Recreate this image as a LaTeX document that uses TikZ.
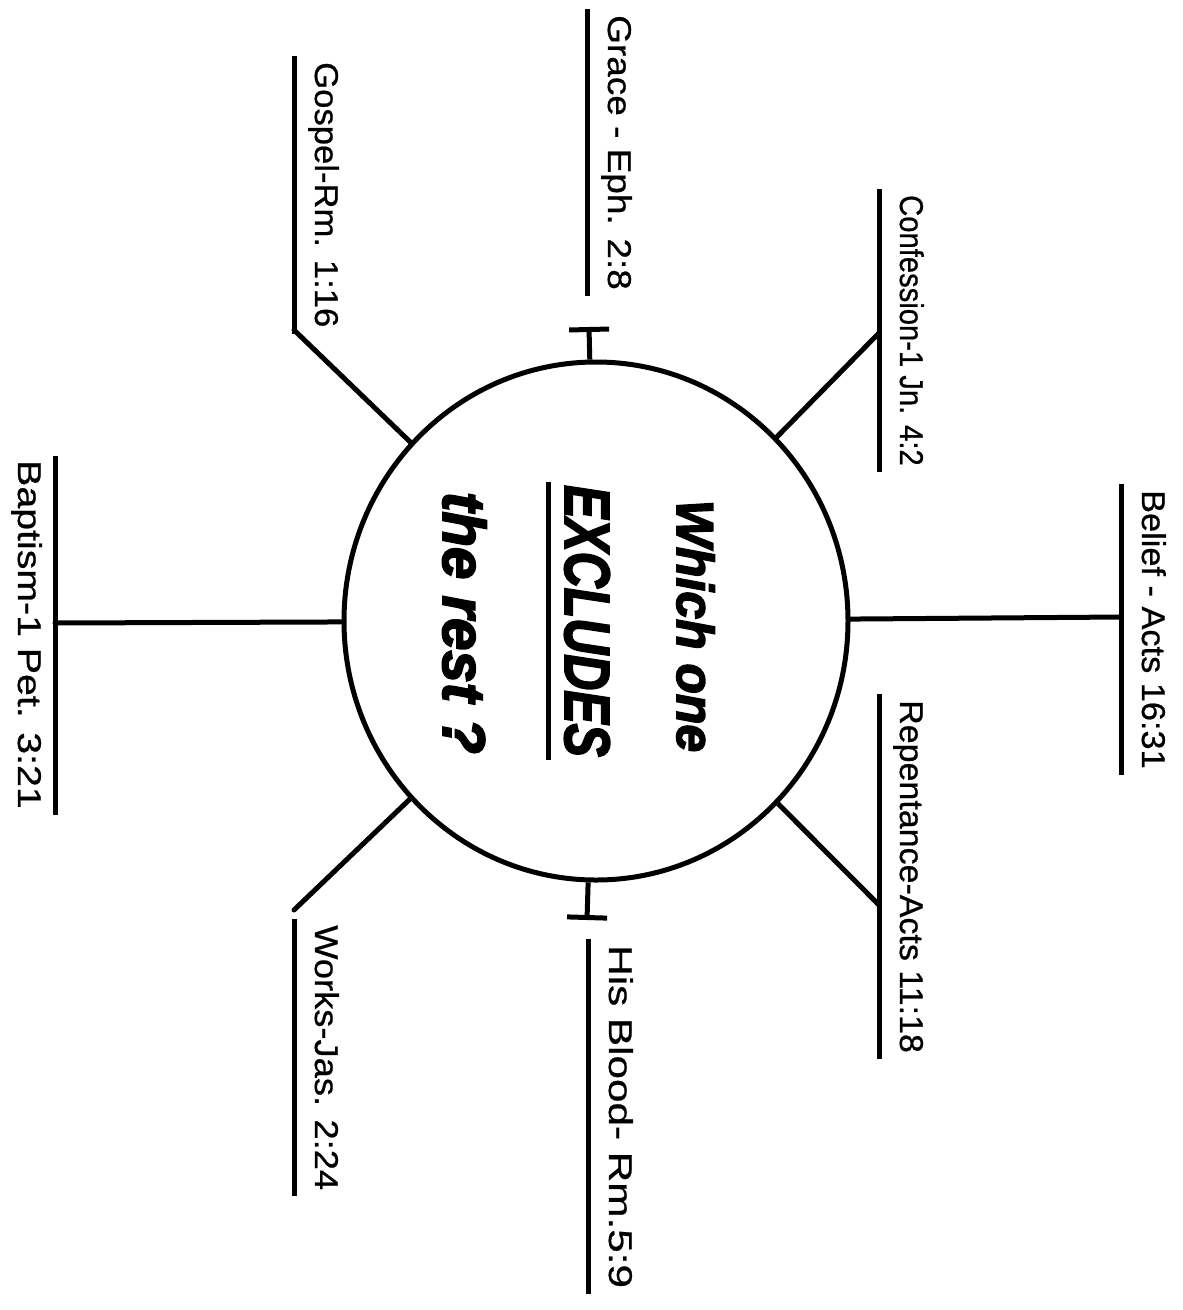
\documentclass[tikz,border=0pt]{standalone}
\usepackage{fontspec}
\setmainfont{Liberation Sans}
\newfontfamily\reffont{Liberation Sans}[FakeBold=0.6]
\newfontfamily\askfont{Liberation Sans}[BoldItalicFeatures={FakeBold=3}]
\usetikzlibrary{shapes.geometric,arrows.meta,positioning}

\begin{document}
\begin{tikzpicture}[x=1pt, y=-1pt,
  hub/.style={ellipse, draw, line width=5pt, minimum width=504pt,
    minimum height=518pt, inner sep=0pt},
  spoke/.style={line width=5pt, line cap=round},
  stub/.style={line width=5pt, -{Bar[width=40pt]}},
  uline/.style={line width=5pt},
  ref/.style={rotate=-90, anchor=base west, inner sep=0pt,
    font=\reffont\fontsize{33}{40}\selectfont},
  ask/.style={rotate=-90, anchor=base, inner sep=0pt}
]
\useasboundingbox (0,0) rectangle (1183,1310);

%--- hub -------------------------------------------------------------------
\node[hub] (C) at (596,621) {};

\node[ask, font=\askfont\bfseries\itshape\fontsize{52}{60}\selectfont, xscale=0.96]
  (q1) at (677,626) {Which one};
\node[ask, font=\askfont\bfseries\itshape\fontsize{64}{72}\selectfont, xscale=0.78]
  (q2) at (565,621) {EXCLUDES};
\node[ask, font=\askfont\bfseries\itshape\fontsize{60}{68}\selectfont, xscale=0.97]
  (q3) at (443,623) {the rest ?};
\draw[uline] ([xshift=-17pt,yshift=3pt]q2.base west)
  -- ([xshift=-17pt,yshift=-3pt]q2.base east);

%--- labels sitting on their lines -----------------------------------------
\foreach \n/\x/\y/\s/\t in {
    Belief/1142/490/1.04/{Belief - Acts 16:31},
    Conf/900/195/0.885/{Confession-1 Jn. 4:2},
    Rep/900/700/1.03/{Repentance-Acts 11:18},
    Grace/608/15/1.12/{Grace - Eph. 2:8},
    Blood/609/945/1.28/{His Blood- Rm.5:9},
    Gosp/315/62/1.05/{Gospel-Rm. 1:16},
    Works/315/925/1.10/{Works-Jas. 2:24}}{
  \node[ref, xscale=\s] (l\n) at (\x,\y) {\t};
  \draw[uline] ([xshift=-21pt,yshift=6pt]l\n.base west)
    -- ([xshift=-21pt,yshift=-6pt]l\n.base east);
}

% Baptism hangs below its line
\node[ref, xscale=1.19] (lBapt) at (18,460) {Baptism-1 Pet. 3:21};
\draw[uline] ([xshift=37pt,yshift=4pt]lBapt.base west)
  -- ([xshift=37pt,yshift=-6pt]lBapt.base east);

%--- spokes ----------------------------------------------------------------
\coordinate (kBelief) at (1121,617);
\coordinate (kConf)   at (879,333);
\coordinate (kRep)    at (879,905);
\coordinate (kGosp)   at (294,330);
\coordinate (kWorks)  at (294,910);
\coordinate (kBapt)   at (55,623);
\coordinate (kGrace)  at (589,327);
\coordinate (kBlood)  at (587,920);

\foreach \k in {Belief,Conf,Rep,Gosp,Works,Bapt}
  \draw[spoke] (C) -- (k\k);

\draw[stub] (C) -- (kGrace);
\draw[stub] (C) -- (kBlood);

\end{tikzpicture}
\end{document}
